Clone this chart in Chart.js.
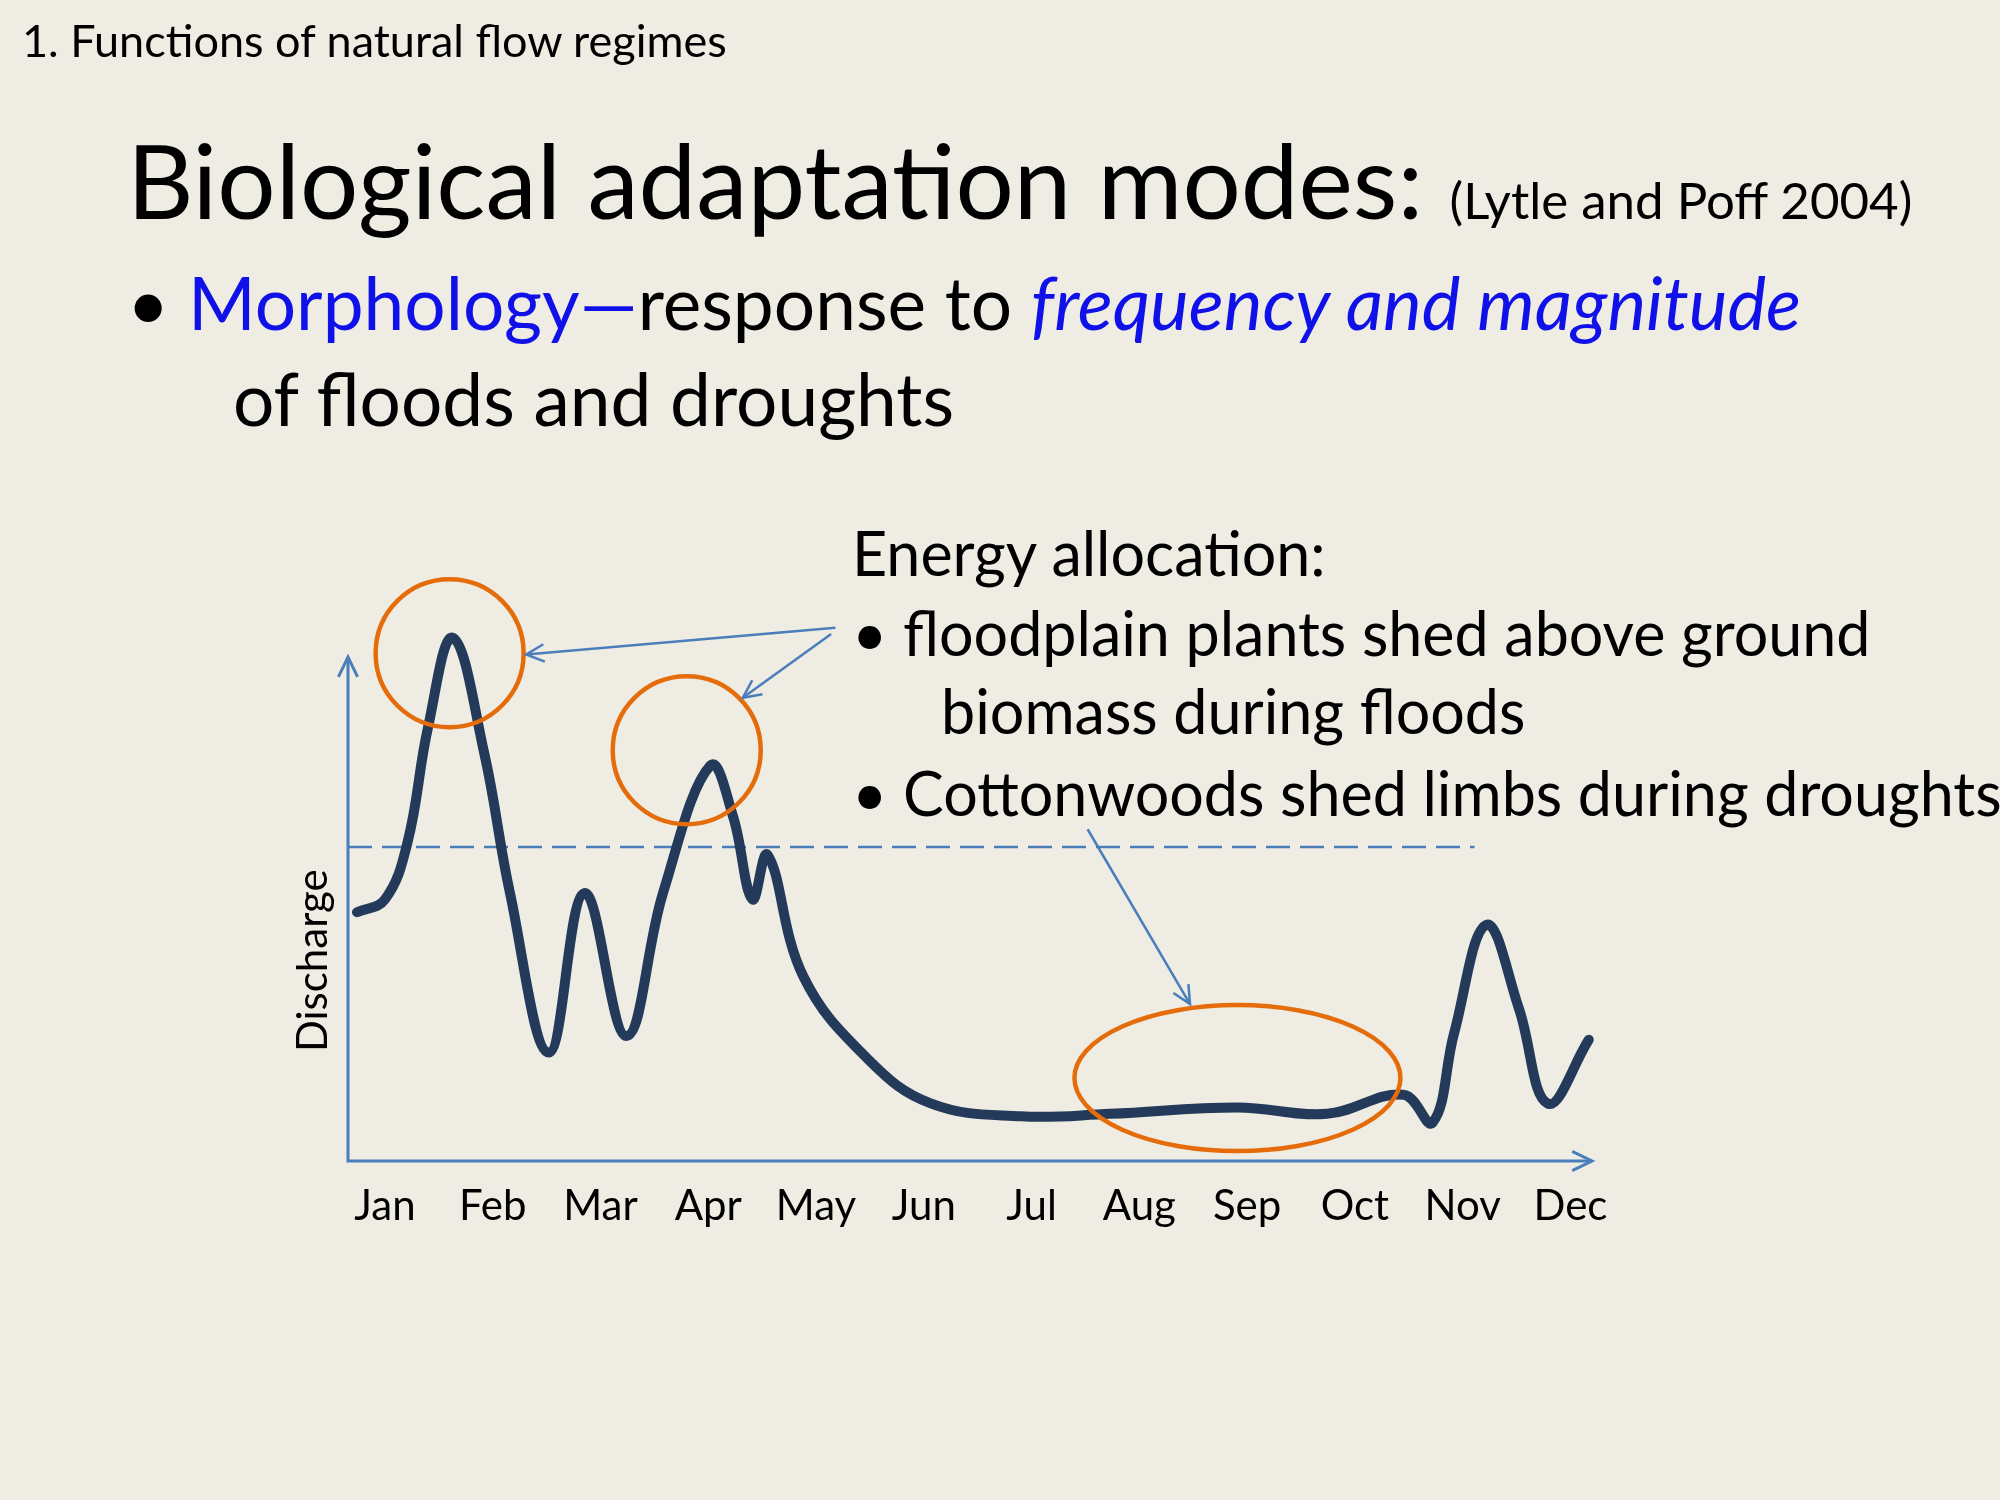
<!DOCTYPE html>
<html>
<head>
<meta charset="utf-8">
<script src="https://cdn.jsdelivr.net/npm/chart.js@4"></script>
<style>
  body { margin: 0; background: #efede3; }
  #wrap { position: relative; width: 2000px; height: 1500px; overflow: hidden; font-family: Lato, "Open Sans", sans-serif; color: #000; }
  #wrap canvas { position: absolute; left: 0; top: 0; }
  .t { position: absolute; white-space: nowrap; line-height: 1; }
  .blue { color: #1010e8; }
</style>
</head>
<body>
<div id="wrap">
  <canvas id="flowChart" width="2000" height="1500"></canvas>
  <div class="t" style="left:22px;top:18px;font-size:45px;">1. Functions of natural flow regimes</div>
  <div class="t" style="left:127px;top:128px;font-size:103px;">Biological adaptation modes: <span style="font-size:51px;">(Lytle and Poff 2004)</span></div>
  <div class="t" style="left:127px;top:266px;font-size:73px;">&bull; <span class="blue">Morphology&mdash;</span>response to <i class="blue">frequency and magnitude</i></div>
  <div class="t" style="left:233px;top:362px;font-size:73px;">of floods and droughts</div>
  <div class="t" style="left:852px;top:522px;font-size:61px;">Energy allocation:</div>
  <div class="t" style="left:852px;top:602px;font-size:61px;">&bull; floodplain plants shed above ground</div>
  <div class="t" style="left:941px;top:680px;font-size:61px;">biomass during floods</div>
  <div class="t" style="left:852px;top:762px;font-size:61px;">&bull; Cottonwoods shed limbs during droughts</div>
  <div class="t" style="left:290px;top:1052px;font-size:42px;transform:rotate(-90deg);transform-origin:left top;">Discharge</div>
</div>
<script>
// months along the time axis (x = month index, Jan = 0)
const months = ['Jan', 'Feb', 'Mar', 'Apr', 'May', 'Jun', 'Jul', 'Aug', 'Sep', 'Oct', 'Nov', 'Dec'];

// hydrograph
const flowX = [-0.26, 0.0, 0.21, 0.4, 0.63, 0.92, 1.16, 1.52, 1.85, 2.24, 2.58, 3.02, 3.23, 3.41, 3.55, 3.88, 4.48, 5.07, 5.9, 6.73, 7.91, 8.74, 9.45, 9.72, 9.92, 10.22, 10.52, 10.79, 11.17];
const flowY = [195, 205, 250, 340, 410, 320, 210, 85, 210, 98, 210, 310, 270, 205, 240, 145, 80, 45, 35, 37, 42, 37, 52, 30, 100, 185, 120, 45, 95];

// annotation anchors in data units
const meanFlow = 246;
const dashEnd = 10.11;
const floodMarks = [{ x: 0.6, y: 398, r: 74 }, { x: 2.8, y: 322, r: 74 }];
const droughtMark = { x: 7.91, y: 65, rx: 163, ry: 73 };
const arrows = [
  { x1: 4.18, y1: 418, x2: 1.31, y2: 397 },
  { x1: 4.14, y1: 413, x2: 3.32, y2: 363 },
  { x1: 6.52, y1: 260, x2: 7.47, y2: 123 }
];

const flowData = flowX.map((x, i) => ({ x: x, y: flowY[i] }));

function arrowHead(ctx, x1, y1, x2, y2, len) {
    const a = Math.atan2(y2 - y1, x2 - x1);
    ctx.beginPath();
    ctx.moveTo(x2 - len * Math.cos(a - 0.45), y2 - len * Math.sin(a - 0.45));
    ctx.lineTo(x2, y2);
    ctx.lineTo(x2 - len * Math.cos(a + 0.45), y2 - len * Math.sin(a + 0.45));
    ctx.stroke();
}

const annotations = {
    id: 'annotations',
    beforeDatasetsDraw(chart) {
        const { ctx, chartArea: area, scales: { x, y } } = chart;
        ctx.save();
        ctx.strokeStyle = '#4a7ebb';
        ctx.lineWidth = 3;
        // axes
        ctx.beginPath();
        ctx.moveTo(area.left, area.top);
        ctx.lineTo(area.left, area.bottom);
        ctx.lineTo(area.right, area.bottom);
        ctx.stroke();
        arrowHead(ctx, area.left, area.bottom, area.left, area.top, 22);
        arrowHead(ctx, area.left, area.bottom, area.right, area.bottom, 22);
        // mean flow line
        ctx.lineWidth = 2.5;
        ctx.setLineDash([24, 10]);
        ctx.beginPath();
        ctx.moveTo(area.left, y.getPixelForValue(meanFlow));
        ctx.lineTo(x.getPixelForValue(dashEnd), y.getPixelForValue(meanFlow));
        ctx.stroke();
        ctx.setLineDash([]);
        // month labels
        ctx.fillStyle = '#000';
        ctx.font = '42px Lato, "Open Sans", sans-serif';
        ctx.textAlign = 'center';
        ctx.textBaseline = 'middle';
        months.forEach((m, i) => ctx.fillText(m, x.getPixelForValue(i), area.bottom + 45));
        ctx.restore();
    },
    afterDatasetsDraw(chart) {
        const { ctx, scales: { x, y } } = chart;
        ctx.save();
        ctx.strokeStyle = '#e46c0a';
        ctx.lineWidth = 4.5;
        floodMarks.forEach(c => {
            ctx.beginPath();
            ctx.arc(x.getPixelForValue(c.x), y.getPixelForValue(c.y), c.r, 0, Math.PI * 2);
            ctx.stroke();
        });
        ctx.beginPath();
        ctx.ellipse(x.getPixelForValue(droughtMark.x), y.getPixelForValue(droughtMark.y), droughtMark.rx, droughtMark.ry, 0, 0, Math.PI * 2);
        ctx.stroke();
        ctx.strokeStyle = '#4a7ebb';
        ctx.lineWidth = 2.5;
        arrows.forEach(a => {
            const x1 = x.getPixelForValue(a.x1), y1 = y.getPixelForValue(a.y1);
            const x2 = x.getPixelForValue(a.x2), y2 = y.getPixelForValue(a.y2);
            ctx.beginPath();
            ctx.moveTo(x1, y1);
            ctx.lineTo(x2, y2);
            ctx.stroke();
            arrowHead(ctx, x1, y1, x2, y2, 20);
        });
        ctx.restore();
    }
};

new Chart(document.getElementById('flowChart').getContext('2d'), {
    type: 'line',
    data: {
        datasets: [{
            data: flowData,
            borderColor: '#243a5a',
            borderWidth: 10,
            borderCapStyle: 'round',
            borderJoinStyle: 'round',
            pointRadius: 0,
            tension: 0.4,
            clip: false,
            fill: false
        }]
    },
    options: {
        responsive: false,
        animation: false,
        layout: { padding: { left: 348, right: 408, top: 657, bottom: 339 } },
        plugins: { legend: { display: false }, tooltip: { enabled: false } },
        scales: {
            x: { type: 'linear', min: -0.343, max: 11.2, display: false },
            y: { min: 0, max: 395, display: false }
        }
    },
    plugins: [annotations]
});
</script>
</body>
</html>
